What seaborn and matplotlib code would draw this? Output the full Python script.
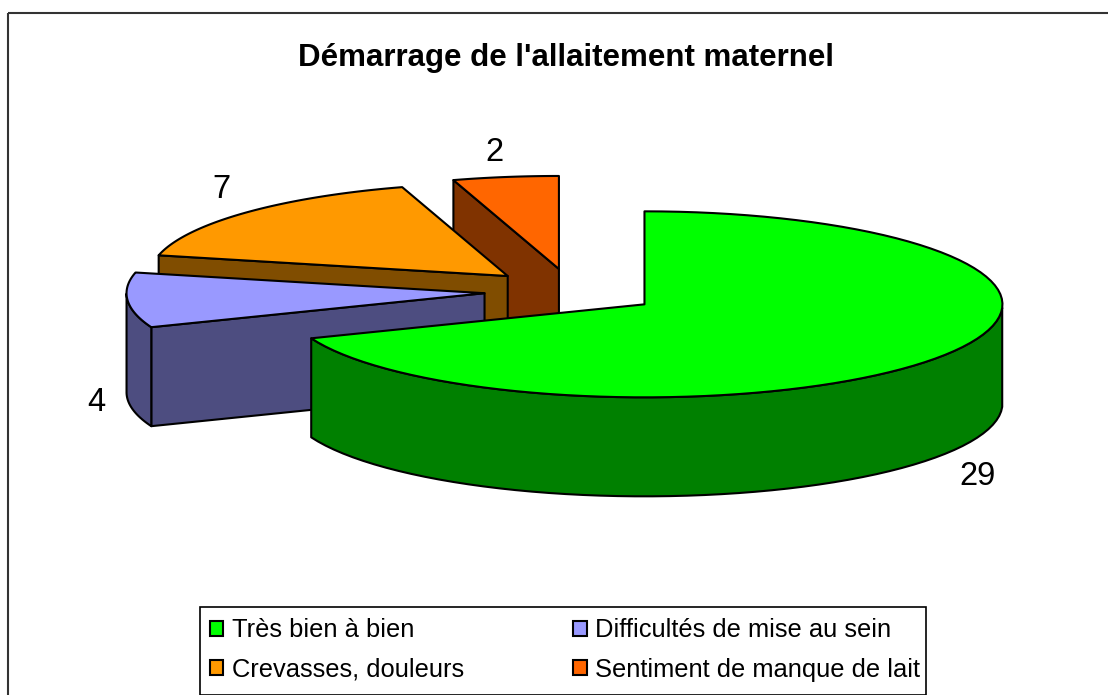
import numpy as np
import seaborn as sns
from matplotlib import pyplot as plt
from matplotlib.patches import Patch, Rectangle

title = "Démarrage de l'allaitement maternel"
labels = ['Très bien à bien', 'Difficultés de mise au sein', 'Crevasses, douleurs', 'Sentiment de manque de lait']
values = [29, 4, 7, 2]
top_colors = ['#00FF00', '#9999FF', '#FF9900', '#FF6600']
side_colors = ['#008000', '#4D4D80', '#804D00', '#803300']

# centre et rayons de l'ellipse, en pixels de l'image
cx, cy = 572, 291.5
rx, ry = 358, 93
depth = 99
explode = 0.245
lw = 1.5

sns.set_theme(style='white')
plt.rcParams['font.family'] = ['Liberation Sans', 'DejaVu Sans']

def rim(apex, angles):
    return apex[0] + rx * np.sin(angles), apex[1] - ry * np.cos(angles)

fig = plt.figure(figsize=(11.08, 6.95), dpi=100)
ax = fig.add_axes([0, 0, 1, 1])
ax.set_xlim(0, 1108)
ax.set_ylim(695, 0)
ax.axis('off')
ax.add_patch(Rectangle((7.5, 12.5), 1200, 800, fill=False, ec='#333333', lw=lw))

edges = np.radians(np.cumsum([0] + values) / sum(values) * 360)
# les parts du fond d'abord, le vert en dernier
for i in [3, 2, 1, 0]:
    a0, a1 = edges[i], edges[i + 1]
    mid = (a0 + a1) / 2
    apex = rim((cx, cy), mid)
    apex = (cx + explode * (apex[0] - cx), cy + explode * (apex[1] - cy))
    angles = np.linspace(a0, a1, 90)
    xs, ys = rim(apex, angles)

    # paroi radiale du debut de la part, visible si elle regarde vers nous
    if np.pi < a0 < 2 * np.pi:
        x0, y0 = rim(apex, a0)
        ax.fill([apex[0], x0, x0, apex[0]], [apex[1], y0, y0 + depth, apex[1] + depth],
                fc=side_colors[i], ec='black', lw=lw, joinstyle='round')
    # paroi du bord, seulement sur la moitie avant de l'ellipse
    front = angles[(angles > np.pi / 2) & (angles < 3 * np.pi / 2)]
    if len(front):
        fx, fy = rim(apex, front)
        ax.fill(np.r_[fx, fx[::-1]], np.r_[fy, fy[::-1] + depth],
                fc=side_colors[i], ec='black', lw=lw, joinstyle='round')
    ax.fill(np.r_[apex[0], xs], np.r_[apex[1], ys], fc=top_colors[i], ec='black', lw=lw, joinstyle='round')

# etiquettes de valeurs, decalees depuis le milieu du bord
label_offsets = [(37, 120), (-31, 102), (-24, -23), (-11, -25)]
for i, v in enumerate(values):
    mid = (edges[i] + edges[i + 1]) / 2
    mx, my = rim((cx, cy), mid)
    mx, my = rim((cx + explode * (mx - cx), cy + explode * (my - cy)), mid)
    ax.text(mx + label_offsets[i][0], my + label_offsets[i][1], str(v), fontsize=23.5,
            ha='center', va='center', color='black')

ax.text(566, 58, title, fontsize=22.5, fontweight='bold', ha='center', va='center', color='black')

# cadre de la legende a part, les marges ne sont pas les memes en x et en y
ax.add_patch(Rectangle((200, 607), 726, 87.5, fc='white', ec='black', lw=1.2))
order = [0, 2, 1, 3]
handles = [Patch(fc=top_colors[i], ec='black', lw=1.5, label=labels[i]) for i in order]
ax.legend(handles=handles, ncols=2, loc='lower left', bbox_to_anchor=(210, 681.5),
          bbox_transform=ax.transData, fontsize=18.4, frameon=False,
          borderaxespad=0, borderpad=0,
          handlelength=0.52, handleheight=0.52, handletextpad=0.34,
          columnspacing=4.27, labelspacing=0.6, labelcolor='black')

fig.savefig('out.png', dpi=100, facecolor='white')
